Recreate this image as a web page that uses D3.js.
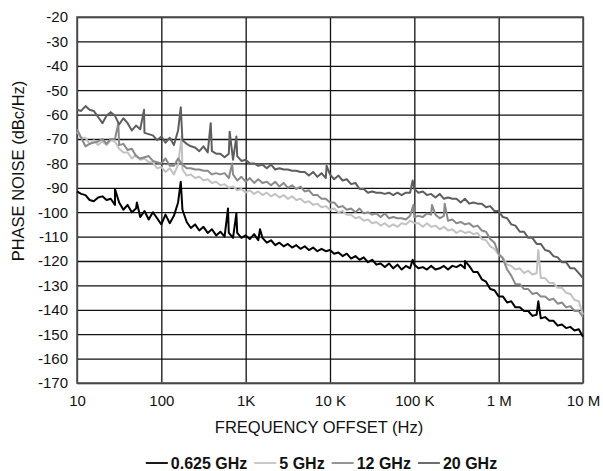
<!DOCTYPE html>
<html>
<head>
<meta charset="utf-8">
<script src="https://cdn.jsdelivr.net/npm/d3@7"></script>
<style>
  body { margin: 0; background: #fff; }
  svg text { font-family: "Liberation Sans", Arial, Helvetica, sans-serif; fill: #111; }
</style>
</head>
<body>
<svg id="chart" width="603" height="471"></svg>
<script>
// offset frequencies (Hz), 20 points per decade
const freqHz = [
  1e1,1.12e1,1.26e1,1.41e1,1.58e1,1.78e1,2e1,2.24e1,2.51e1,2.82e1,3.16e1,3.55e1,3.98e1,4.47e1,5.01e1,5.62e1,6.31e1,7.08e1,7.94e1,8.91e1,
  1e2,1.12e2,1.26e2,1.41e2,1.58e2,1.78e2,2e2,2.24e2,2.51e2,2.82e2,3.16e2,3.55e2,3.98e2,4.47e2,5.01e2,5.62e2,6.31e2,7.08e2,7.94e2,8.91e2,
  1e3,1.12e3,1.26e3,1.41e3,1.58e3,1.78e3,2e3,2.24e3,2.51e3,2.82e3,3.16e3,3.55e3,3.98e3,4.47e3,5.01e3,5.62e3,6.31e3,7.08e3,7.94e3,8.91e3,
  1e4,1.12e4,1.26e4,1.41e4,1.58e4,1.78e4,2e4,2.24e4,2.51e4,2.82e4,3.16e4,3.55e4,3.98e4,4.47e4,5.01e4,5.62e4,6.31e4,7.08e4,7.94e4,8.91e4,
  1e5,1.12e5,1.26e5,1.41e5,1.58e5,1.78e5,2e5,2.24e5,2.51e5,2.82e5,3.16e5,3.55e5,3.98e5,4.47e5,5.01e5,5.62e5,6.31e5,7.08e5,7.94e5,8.91e5,
  1e6,1.12e6,1.26e6,1.41e6,1.58e6,1.78e6,2e6,2.24e6,2.51e6,2.82e6,3.16e6,3.55e6,3.98e6,4.47e6,5.01e6,5.62e6,6.31e6,7.08e6,7.94e6,8.91e6,
  1e7
];

// phase noise (dBc/Hz) per carrier
const pn0625 = [
  -91.5,-92.5,-93,-95,-95.5,-94,-93.5,-95,-94.5,-97,-96,-99,-97,-100,-98.5,-102,-99.5,-103,-100,-102.5,
  -105,-101,-104.5,-101.5,-96,-99,-104,-106.5,-105,-107.5,-106,-108.5,-107,-109.5,-108,-110,-108.5,-110.5,-108.5,-110.5,
  -109.5,-111,-109,-111.5,-110.5,-112.5,-111.5,-113.5,-112.5,-114,-113,-114.5,-113.5,-115,-114,-115.5,-114.5,-116,-115,-116,
  -115.5,-117,-116.5,-118,-117,-119,-118,-119.5,-118.5,-120.5,-119.5,-121.5,-121,-122.5,-121,-123,-121.5,-123.5,-122,-123,
  -121.5,-123,-122.5,-123.5,-122,-123.5,-123,-122,-123.5,-122,-122.5,-121.5,-123,-122,-124.5,-124.5,-127.5,-128.5,-131.5,-132,
  -134.5,-134.5,-137,-136.5,-139,-139,-140.5,-140.5,-142.5,-142,-143.5,-143,-144.5,-144.5,-146.5,-146,-147.5,-147,-148.5,-148,
  -151
];
const pn5 = [
  -67,-69.5,-69.5,-72,-70.5,-72.5,-71,-72.5,-70.5,-71,-74,-75.5,-75.5,-78,-76.5,-78.5,-78,-79.5,-79.5,-82,
  -81.5,-83.5,-82,-84.5,-80.5,-82.5,-85,-84.5,-86,-85.5,-87,-86.5,-88,-87.5,-89,-88.5,-90,-89.5,-91,-90.5,
  -92,-91,-92.5,-91.5,-93,-92,-93.5,-92.5,-94,-93,-94.5,-93.5,-95,-94.5,-96,-95.5,-97,-96.5,-98,-97.5,
  -99,-98.5,-100,-99.5,-101,-101,-102.5,-102,-103.5,-103,-104.5,-104,-105.5,-104.5,-106,-105,-106,-104.5,-105,-103.5,
  -104.5,-104.5,-106,-104.5,-106,-105.5,-107,-106,-107.5,-107,-108.5,-107.5,-108.5,-108,-109,-108.5,-111,-111.5,-114,-115,
  -117.5,-118.5,-121.5,-122,-123.5,-123,-125,-124,-125.5,-125,-127,-127,-129,-129,-131,-131,-133,-133.5,-136,-136.5,
  -142
];
const pn12 = [
  -66,-69.5,-73,-72,-71.5,-71,-70,-72,-70,-70,-72.5,-72,-74.5,-74,-77,-78,-77.5,-77,-79,-79.5,
  -80,-78,-81,-81,-78,-80.5,-82,-82,-82.5,-82.5,-83,-83,-84.5,-84,-84.5,-84,-86,-84.5,-87,-85.5,
  -87.5,-86,-88,-86.5,-88,-87.5,-89,-87.5,-89.5,-88,-90,-89,-90.5,-89.5,-91.5,-91,-93,-93,-94.5,-94.5,
  -96,-96,-98,-97.5,-99,-98.5,-100,-98.5,-100.5,-100,-101,-100.5,-102,-100.5,-102.5,-102,-102.5,-102.5,-103,-101.5,
  -102,-101.5,-102,-100.5,-101,-101,-102.5,-101.5,-103.5,-103,-104.5,-104,-105,-104.5,-106,-105.5,-107.5,-108,-111,-112.5,
  -117,-119,-123.5,-126,-129.5,-129.5,-131.5,-131.5,-133.5,-133,-134.5,-134.5,-136,-135.5,-137.5,-137,-139,-138.5,-140.5,-140.5,
  -143
];
const pn20 = [
  -58,-58.5,-56.5,-58,-58.5,-61,-63.5,-60.5,-59,-60.5,-64,-61.5,-63.5,-66.5,-64.5,-66,-67.5,-68,-68.5,-70.5,
  -69,-71.5,-69.5,-72.5,-66.5,-70.5,-72,-73,-73.5,-75,-73,-75.5,-75,-76,-76,-77.5,-76,-78.5,-77,-79,
  -78.5,-80,-80,-81,-80.5,-82,-80.5,-82.5,-82,-82.5,-82.5,-83,-83,-83.5,-83.5,-85,-83.5,-85.5,-84,-86,
  -84.5,-86.5,-85,-87,-86.5,-88.5,-88,-90.5,-90.5,-92,-91.5,-92,-92,-92.5,-92,-93,-92,-93,-92,-92,
  -90.5,-92,-91.5,-93,-92.5,-94,-92.5,-94.5,-94,-94.5,-94.5,-96,-94.5,-96.5,-96,-96.5,-96.5,-98,-97.5,-99.5,
  -99.5,-102,-102.5,-105,-105.5,-108,-108,-110.5,-110.5,-113,-113,-115.5,-116,-118,-118.5,-120.5,-120.5,-123,-123,-125,
  -127
];

// spurs [Hz, dBc/Hz]
const spurs0625 = [[28.2,-90.5],[51.3,-96],[170,-87.5],[617,-98.5],[776,-100.5],[1480,-107],[95500,-119.5],[398000,-120],[2.95e6,-136.5]];
const spurs5 = [[174,-69],[2.95e6,-115.5]];
const spurs12 = [[30.9,-63.5],[692,-80],[97700,-97],[162000,-97],[229000,-96.5]];
const spurs20 = [[62.4,-58],[170,-57],[385,-63.5],[646,-67],[776,-69],[9120,-81],[95500,-87]];

const seriesNames = ["0.625 GHz", "5 GHz", "12 GHz", "20 GHz"];
const seriesColors = ["#000000", "#c2c2c2", "#8a8a8a", "#5e5e5e"];

const xTicks = [1e1, 1e2, 1e3, 1e4, 1e5, 1e6, 1e7];
const xTickLabels = ["10", "100", "1K", "10 K", "100 K", "1 M", "10 M"];
const yTicks = [-20, -30, -40, -50, -60, -70, -80, -90, -100, -110, -120, -130, -140, -150, -160, -170];

var svg = d3.select("#chart");
var plotL = 77, plotR = 583, plotT = 17, plotB = 383;

var x = d3.scaleLog().domain([10, 1e7]).range([plotL, plotR]);
var y = d3.scaleLinear().domain([-170, -20]).range([plotB, plotT]);

// grid + tick labels
var gx = svg.append("g")
    .attr("transform", "translate(0," + plotB + ")")
    .call(d3.axisBottom(x)
      .tickValues(xTicks)
      .tickSize(-(plotB - plotT))
      .tickPadding(12)
      .tickFormat(function (d, i) { return xTickLabels[i]; }));
var gy = svg.append("g")
    .attr("transform", "translate(" + plotL + ",0)")
    .call(d3.axisLeft(y)
      .tickValues(yTicks)
      .tickSize(-(plotR - plotL))
      .tickPadding(9)
      .tickFormat(function (d) { return d; }));

[gx, gy].forEach(function (g) {
  g.select(".domain").remove();
  g.selectAll(".tick line").attr("stroke", "#111").attr("stroke-width", 1.3);
  g.selectAll(".tick text").attr("font-size", 15).attr("fill", "#111");
});

// frame
svg.append("rect")
    .attr("x", plotL).attr("y", plotT)
    .attr("width", plotR - plotL).attr("height", plotB - plotT)
    .attr("fill", "none").attr("stroke", "#555").attr("stroke-width", 1.6);

function traceOf(vals, spurs) {
  var pts = freqHz.map(function (f, i) { return [f, vals[i]]; });
  pts = pts.concat(spurs);
  pts.sort(function (a, b) { return a[0] - b[0]; });
  return pts;
}

var line = d3.line()
    .x(function (d) { return x(d[0]); })
    .y(function (d) { return y(d[1]); });

var traces = [
  traceOf(pn5, spurs5),
  traceOf(pn12, spurs12),
  traceOf(pn20, spurs20),
  traceOf(pn0625, spurs0625)
];
var traceColors = [seriesColors[1], seriesColors[2], seriesColors[3], seriesColors[0]];

svg.append("g").selectAll("path")
    .data(traces)
    .enter()
    .append("path")
    .attr("d", line)
    .attr("fill", "none")
    .attr("stroke", function (d, i) { return traceColors[i]; })
    .attr("stroke-width", 2)
    .attr("stroke-linejoin", "round");

// axis titles
svg.append("text")
    .attr("x", 319).attr("y", 433)
    .attr("text-anchor", "middle")
    .attr("font-size", 16.5)
    .text("FREQUENCY OFFSET (Hz)");
svg.append("text")
    .attr("transform", "translate(23.5,171) rotate(-90)")
    .attr("text-anchor", "middle")
    .attr("font-size", 16.5)
    .text("PHASE NOISE (dBc/Hz)");

// legend
var legend = svg.append("g");
var lx = 0;
seriesNames.forEach(function (name, i) {
  var item = legend.append("g").attr("transform", "translate(" + lx + ",0)");
  item.append("line")
      .attr("x1", 0).attr("x2", 22).attr("y1", 463).attr("y2", 463)
      .attr("stroke", seriesColors[i]).attr("stroke-width", 1.8);
  var t = item.append("text")
      .attr("x", 25).attr("y", 468.5)
      .attr("font-size", 16)
      .attr("font-weight", "bold")
      .text(name);
  lx += 25 + t.node().getComputedTextLength() + 7;
});
legend.attr("transform", "translate(" + (321.5 - (lx - 7) / 2) + ",0)");
</script>
</body>
</html>
